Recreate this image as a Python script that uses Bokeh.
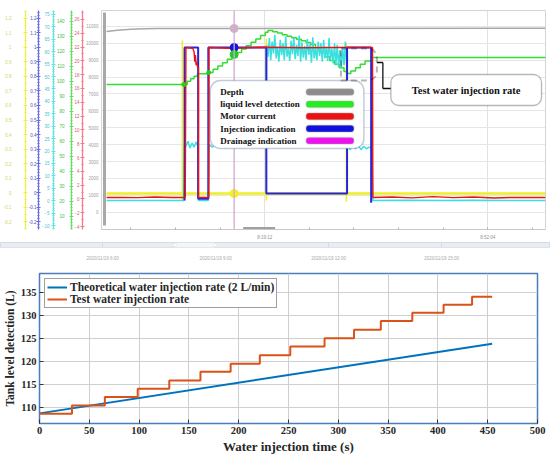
from bokeh.plotting import figure
from bokeh.models import (Range1d, LinearAxis, FixedTicker, SingleIntervalTicker,
                          CustomJSTickFormatter, BoxAnnotation, Label, Arrow, Span)
from bokeh.embed import file_html
from bokeh.resources import INLINE

# ===================== DATA : upper panel (monitoring software) =====================
# time in minutes after 8:00, values in the main (depth) axis units
DEPTH_T = [-4.1, -2.5, -0.5, 1.5, 3.5, 60.6]
DEPTH_V = [10690, 10760, 10820, 10850, 10870, 10880]

LEVEL_T = [-4.1, 7.3, 7.8, 8.3, 8.8, 9.3, 10.9, 11.6, 12.3, 13.0, 13.7, 14.4, 15.1, 15.8,
           16.5, 17.2, 17.9, 18.6, 19.3, 19.7, 20.4, 21.1, 21.8, 22.5, 23.2, 23.9, 24.6,
           25.3, 26.0, 26.7, 27.4, 28.1, 28.8, 29.5, 30.2, 30.9, 31.4, 31.9, 32.6, 33.3,
           34.0, 34.9, 60.6]
LEVEL_V = [7556, 7556, 7750, 7900, 8050, 8190, 8260, 8460, 8650, 8850, 9050, 9250, 9450, 9650,
           9850, 10050, 10250, 10450, 10650, 10750, 10680, 10600, 10500, 10410, 10320, 10230, 10140,
           10040, 9930, 9720, 9450, 9200, 8980, 8760, 8540, 8330, 8207, 8350, 8550, 8750,
           8950, 9154, 9154]

MOTOR_T = [-4.1, -2.0, 0.5, 3.0, 5.5, 7.5, 7.6, 8.6, 8.8, 8.9, 9.0, 9.1, 9.2, 9.3, 9.45, 9.45,
           10.95, 11.0, 14.0, 19.0, 25.0, 31.0, 35.1, 35.15, 38.0, 41.0, 44.0, 47.0, 50.0,
           53.0, 56.0, 60.6]
MOTOR_V = [870, 880, 860, 900, 870, 870, 9746, 9700, 9500, 8900, 9300, 8700, 8900, 8600, 8600, 870,
           870, 9746, 9700, 9760, 9730, 9750, 9746, 870, 900, 850, 920, 860, 900,
           840, 880, 870]

INJECT_T = [7.4, 7.4, 9.4, 9.4, 10.9, 10.9, 19.45, 19.45, 31.35, 31.35, 34.9, 34.9]
INJECT_V = [690, 9746, 9746, 800, 800, 9746, 9746, 1107, 1107, 9746, 9746, 560]

SIGNAL_T = [-4.1, 60.6]
SIGNAL_V = [1107, 1107]
SIGNAL_EDGE_T = [7.07, 19.45, 31.25]
SIGNAL_EDGE_TOP = [10160, 10260, 10000]
SIGNAL_EDGE_BOTTOM = [692, 692, 640]

CYAN_T1 = [-4.1, 7.3, 7.4, 7.6, 7.9, 8.2, 8.5, 8.8, 9.1, 9.35, 9.45, 10.9, 11.0, 11.5, 12.0,
           12.5, 13.0, 13.5, 14.0, 14.5, 15.0, 15.5, 16.0, 16.5, 17.0, 17.5, 18.0, 18.5, 19.0, 19.4]
CYAN_V1 = [692, 692, 4000, 3900, 4200, 3800, 4100, 3850, 4150, 3900, 692, 692, 4000, 3850, 4100,
           3900, 4050, 3800, 4000, 3900, 4050, 3850, 4000, 3900, 4050, 3850, 4000, 3900, 4050, 3950]
CYAN_T2 = [19.5, 19.7, 19.9, 20.1, 20.3, 20.5, 20.7, 20.9, 21.1, 21.3,
           21.5, 21.7, 21.9, 22.1, 22.3, 22.5, 22.7, 22.9, 23.1, 23.3,
           23.5, 23.7, 23.9, 24.1, 24.3, 24.5, 24.7, 24.9, 25.1, 25.3,
           25.5, 25.7, 25.9, 26.1, 26.3, 26.5, 26.7, 26.9, 27.1, 27.3,
           27.5, 27.7, 27.9, 28.1, 28.3, 28.5, 28.7, 28.9, 29.1, 29.3,
           29.5, 29.7, 29.9, 30.1, 30.3, 30.5, 30.7, 30.9, 31.1, 31.3]
CYAN_V2 = [9900, 9200, 10300, 9000, 10100, 9400, 10500, 9100, 9800, 8900,
           10200, 9300, 10000, 9000, 10400, 9200, 9700, 8950, 10150, 9350,
           10300, 9050, 9900, 9250, 10450, 8900, 10050, 9150, 9850, 9000,
           10250, 9300, 9950, 8850, 10350, 9100, 9750, 9000, 10100, 9250,
           10000, 8900, 10200, 9100, 9800, 8950, 10300, 9000, 9700, 8800,
           10000, 8700, 9900, 8600, 9600, 8500, 9800, 8700, 10100, 8600]
CYAN_T3 = [31.4, 31.8, 32.2, 32.6, 33.0, 33.4, 33.8, 34.2, 34.6, 35.0, 35.15, 40.0, 45.0, 50.0, 55.0, 60.6]
CYAN_V3 = [3900, 3700, 4000, 3750, 3950, 3700, 3900, 3750, 3850, 3800, 692, 700, 690, 700, 690, 692]

CURSOR_T = 14.71
CURSOR_V = [10870, 9746, 9331, 1107]
CURSOR_COLORS = ["#cfb2c8", "#1515d8", "#22cc22", "#f4f020"]
LEVEL_MARK_T = [7.3, 10.95]
LEVEL_MARK_V = [7556, 8260]

DEPTH_TICKS = [0, 1000, 2000, 3000, 4000, 5000, 6000, 7000, 8000, 9000, 10000, 11000]
TIME_TICKS = [-0.52, 6.05, 12.63, 19.2, 25.77, 32.35, 38.92, 45.49, 52.07, 58.64]
TIME_LABELS = ["", "", "", "8:19:12", "", "", "", "", "8:52:04", ""]
TIME_GRID = [19.2, 52.07]

LEGEND_NAMES = ["Depth", "liquid level detection", "Motor current",
                "Injection indication", "Drainage indication"]
LEGEND_COLORS = ["#8c8c8c", "#22ee22", "#ee1111", "#1111dd", "#ee11ee"]
CALLOUT_TEXT = "Test water injection rate"

NAV_HOURS = [6, 9, 12, 15]
NAV_LABELS = ["2020/11/19 6:00", "2020/11/19 9:00", "2020/11/19 12:00", "2020/11/19 15:00"]
NAV_WINDOW = [7.91, 9.0]

# ===================== DATA : lower chart =====================
THEORY_T = [0, 454.5]
THEORY_L = [108.8, 123.95]
TEST_T = [0, 32.6, 65.6, 98.6, 130.3, 161.6, 191.9, 221.2, 251.8, 286.2, 315.8, 342.7,
          374.3, 405.7, 434.3, 454.5]
TEST_L = [108.7, 110.5, 112.35, 114.15, 115.95, 117.85, 119.6, 121.45, 123.35, 125.15,
          127.0, 128.85, 130.65, 132.4, 134.15, 134.15]
X_TICKS = [0, 50, 100, 150, 200, 250, 300, 350, 400, 450, 500]
Y_TICKS = [110, 115, 120, 125, 130, 135]

# ===================== upper panel =====================
def rx(px):   # reference-pixel x -> minutes
    return 19.2 + (px - 263.5) / 6.8

def ry(py):   # reference-pixel y -> depth units
    return (211.7 - py) / 16.9 * 1000

SMALL = "Liberation Sans"
SERIF = "Liberation Serif"

p1 = figure(width=550, height=242, x_range=Range1d(rx(100), rx(545)),
            y_range=Range1d(ry(229), ry(10)), output_backend="svg", toolbar_location=None,
            min_border_top=10, min_border_bottom=13, min_border_left=0, min_border_right=5)
p1.outline_line_color = "#d4d4d4"
p1.background_fill_color = "white"

ya = p1.yaxis[0]
ya.ticker = FixedTicker(ticks=DEPTH_TICKS)
ya.axis_line_color = None
ya.major_tick_in = 0
ya.major_tick_out = 0
ya.minor_tick_line_color = None
ya.major_label_standoff = 3
ya.major_label_text_font = SMALL
ya.major_label_text_font_size = "4.5px"
ya.major_label_text_color = "#a0a0a0"

xa = p1.xaxis[0]
xa.ticker = FixedTicker(ticks=TIME_TICKS)
xa.major_label_overrides = {t: l for t, l in zip(TIME_TICKS, TIME_LABELS)}
xa.axis_line_color = "#c8c8c8"
xa.major_tick_line_color = "#b0b0b0"
xa.major_tick_in = 2
xa.major_tick_out = 0
xa.minor_tick_line_color = None
xa.major_label_standoff = 5
xa.major_label_text_font = SMALL
xa.major_label_text_font_size = "4.5px"
xa.major_label_text_color = "#909090"

p1.xgrid.ticker = FixedTicker(ticks=TIME_GRID)
p1.xgrid.grid_line_color = "#e2e2e2"
p1.ygrid.ticker = FixedTicker(ticks=DEPTH_TICKS)
p1.ygrid.grid_line_color = "#e6e6e6"

one_dec = CustomJSTickFormatter(code="return String(Math.round(tick*10)/10);")
EXTRA = [
    ("red", -4.43, 27.3, 2, 2, "#f27c8a", "#e05a6a", 1, None),
    ("grn", 1.3, 147.3, 10, 5, "#66dd66", "#44bb44", 5, None),
    ("cya", -11.6, 76.6, 5, 5, "#66e2e2", "#44c6c6", 2, None),
    ("blu", -0.255, 1.255, 0.1, 5, "#6a6ae0", "#5050c8", 0, one_dec),
    ("yel", -0.255, 1.255, 0.1, 2, "#efef44", "#d8d060", 12, one_dec),
]
for name, lo, hi, step, nminor, lc, tc, stand, fmt in EXTRA:
    p1.extra_y_ranges[name] = Range1d(lo, hi)
    ax = LinearAxis(y_range_name=name,
                    ticker=SingleIntervalTicker(interval=step, num_minor_ticks=nminor))
    if fmt is not None:
        ax.formatter = fmt
    ax.axis_line_color = lc
    ax.axis_line_width = 1.3
    ax.major_tick_line_color = lc
    ax.minor_tick_line_color = lc
    ax.major_tick_in = 2
    ax.major_tick_out = 2
    ax.minor_tick_in = 1
    ax.minor_tick_out = 1
    ax.major_label_standoff = stand
    ax.major_label_text_font = SMALL
    ax.major_label_text_font_size = "4.5px"
    ax.major_label_text_color = tc
    p1.add_layout(ax, "left")

# scroll bars of the software
p1.add_layout(BoxAnnotation(left=rx(101.5), right=rx(104.5), top=ry(12), bottom=ry(225),
                            fill_color="#a8a8a8", fill_alpha=1, line_color=None))
p1.add_layout(BoxAnnotation(left=rx(242), right=rx(274), top=ry(226.5), bottom=ry(228.5),
                            fill_color="#a0a0a0", fill_alpha=1, line_color=None))

# series
p1.line(DEPTH_T, DEPTH_V, line_color="#a8a8a8", line_width=1.5)
p1.line(SIGNAL_T, SIGNAL_V, line_color="#eeee22", line_width=2.5)
p1.segment(x0=SIGNAL_EDGE_T, y0=SIGNAL_EDGE_BOTTOM, x1=SIGNAL_EDGE_T, y1=SIGNAL_EDGE_TOP,
           line_color="#eeee22", line_width=1.5)
p1.step(LEVEL_T, LEVEL_V, mode="after", line_color="#33dd33", line_width=1.5)
p1.line(CYAN_T1 + CYAN_T2 + CYAN_T3, CYAN_V1 + CYAN_V2 + CYAN_V3, line_color="#3ae0e0", line_width=1.5)
p1.line(INJECT_T, INJECT_V, line_color="#2525dd", line_width=2)
p1.line(MOTOR_T, MOTOR_V, line_color="#ee1111", line_width=1.4)
p1.scatter(LEVEL_MARK_T, LEVEL_MARK_V, size=4, color="#22cc22")

p1.add_layout(Span(location=CURSOR_T, dimension="height", line_color="#d6a8d6", line_width=1.3))
p1.scatter([CURSOR_T] * len(CURSOR_V), CURSOR_V, size=8, color=CURSOR_COLORS)

# legend box of the software screenshot
p1.add_layout(BoxAnnotation(left=rx(209), right=rx(363), top=ry(80), bottom=ry(148),
                            fill_color="white", fill_alpha=1, line_color="#34528f",
                            line_width=1.5, border_radius=10))
for i, (nm, col) in enumerate(zip(LEGEND_NAMES, LEGEND_COLORS)):
    yc = 91.5 + i * 12.2
    p1.add_layout(Label(x=rx(219), y=ry(yc), text=nm, text_font=SERIF, text_font_style="bold",
                        text_font_size="9px", text_baseline="middle", text_color="#111111"))
    p1.add_layout(BoxAnnotation(left=rx(305), right=rx(353), top=ry(yc - 3.3), bottom=ry(yc + 3.3),
                                fill_color=col, fill_alpha=1, line_color="#a6a6a6",
                                line_width=1.5, border_radius=3))

# dashed bracket + callout
p1.add_layout(BoxAnnotation(left=rx(340), right=rx(376), top=ry(48), bottom=ry(80),
                            fill_alpha=0, line_color="#111111", line_width=2,
                            line_dash="6 4", border_radius=(0, 9, 9, 0)))
for (xa0, ya0, xa1, ya1) in [(376, 62, 382, 62), (382, 62, 382, 88), (382, 88, 390, 88)]:
    p1.add_layout(Arrow(end=None, x_start=rx(xa0), y_start=ry(ya0), x_end=rx(xa1), y_end=ry(ya1),
                        line_color="#111111", line_width=1.3))
p1.add_layout(BoxAnnotation(left=rx(390), right=rx(541), top=ry(74), bottom=ry(105),
                            fill_color="white", fill_alpha=1, line_color="#111111",
                            line_width=1.3, border_radius=8))
p1.add_layout(Label(x=rx(465.5), y=ry(90), text=CALLOUT_TEXT, text_font=SERIF,
                    text_font_style="bold", text_font_size="10.5px", text_align="center",
                    text_baseline="middle", text_color="#111111"))

# ===================== time navigator strip =====================
p2 = figure(width=550, height=21, x_range=Range1d(3.29, 17.89), y_range=Range1d(0, 1),
            output_backend="svg", toolbar_location=None, y_axis_location=None,
            min_border_left=0, min_border_right=0, min_border_top=0, min_border_bottom=9)
p2.background_fill_color = "#e8edf3"
p2.outline_line_color = "#d3dbe4"
p2.ygrid.visible = False
p2.xaxis.ticker = FixedTicker(ticks=NAV_HOURS)
p2.xaxis.major_label_overrides = {h: l for h, l in zip(NAV_HOURS, NAV_LABELS)}
p2.xaxis.axis_line_color = "#dde3ea"
p2.xaxis.major_tick_line_color = None
p2.xaxis.minor_tick_line_color = None
p2.xaxis.major_label_standoff = 2
p2.xaxis.major_label_text_font = SMALL
p2.xaxis.major_label_text_font_size = "4.5px"
p2.xaxis.major_label_text_color = "#a8a8a8"
p2.xgrid.grid_line_color = "#d3dbe4"
p2.add_layout(BoxAnnotation(left=NAV_WINDOW[0], right=NAV_WINDOW[1], fill_color="#f3f6f9",
                            fill_alpha=1, line_color=None))
for h in NAV_WINDOW:
    p2.add_layout(BoxAnnotation(left=h - 0.04, right=h + 0.04, top=0.8, bottom=0.2,
                                fill_color="white", fill_alpha=1, line_color="#b8b8b8",
                                line_width=0.8))

# ===================== lower chart =====================
p3 = figure(width=550, height=195, x_range=Range1d(0, 500), y_range=Range1d(106.6, 139.2),
            output_backend="svg", toolbar_location=None,
            min_border_left=10, min_border_right=13, min_border_top=10, min_border_bottom=35)
p3.background_fill_color = "white"
p3.outline_line_color = "#4a7ebb"
p3.outline_line_width = 1.5
p3.grid.grid_line_color = "#cfcfcf"
p3.grid.grid_line_width = 1

p3.line(THEORY_T, THEORY_L, line_color="#0072BD", line_width=2,
        legend_label="Theoretical water injection rate (2 L/min)")
p3.step(TEST_T, TEST_L, mode="after", line_color="#D95319", line_width=2,
        legend_label="Test water injection rate")

for ax, ticks in ((p3.below[0], X_TICKS), (p3.left[0], Y_TICKS)):
    ax.ticker = FixedTicker(ticks=ticks)
    ax.axis_line_color = None
    ax.major_tick_in = 4
    ax.major_tick_out = 0
    ax.major_tick_line_color = "#333333"
    ax.minor_tick_line_color = None
    ax.major_label_standoff = 3
    ax.major_label_text_font = SERIF
    ax.major_label_text_font_style = "bold"
    ax.major_label_text_font_size = "10.5px"
    ax.major_label_text_color = "#262626"
    ax.axis_label_text_font = SERIF
    ax.axis_label_text_font_style = "bold"
    ax.axis_label_text_color = "#262626"
    ax.axis_label_standoff = 2
p3.below[0].axis_label = "Water injection time (s)"
p3.below[0].axis_label_text_font_size = "13px"
p3.left[0].axis_label = "Tank level detection (L)"
p3.left[0].axis_label_text_font_size = "11.5px"

lg = p3.legend[0]
lg.location = "top_left"
lg.margin = 5
lg.padding = 2
lg.spacing = 0
lg.glyph_width = 20
lg.glyph_height = 12
lg.label_height = 12
lg.label_standoff = 3
lg.label_text_font = SERIF
lg.label_text_font_style = "bold"
lg.label_text_font_size = "11.5px"
lg.label_text_color = "#262626"
lg.border_line_color = "#404040"
lg.border_line_width = 1
lg.background_fill_alpha = 1

# three independent roots stacked in the page (no frame alignment between them)
open("out.html", "w").write(file_html([p1, p2, p3], INLINE, title="Water injection rate"))
